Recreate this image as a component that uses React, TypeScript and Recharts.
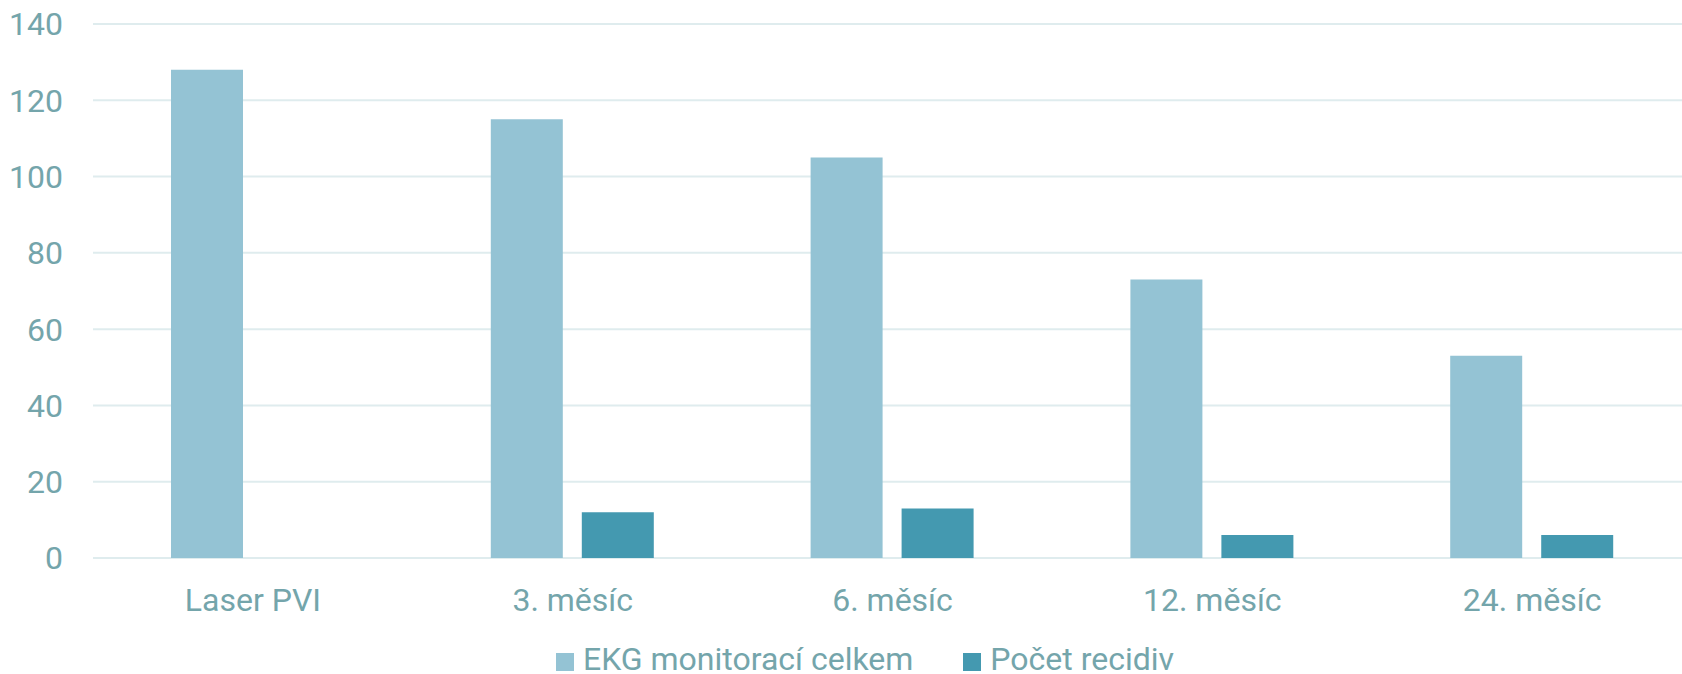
import React from 'react'
import { BarChart, Bar, XAxis, YAxis, CartesianGrid, Legend } from 'recharts'

const categories = ['Laser PVI', '3. měsíc', '6. měsíc', '12. měsíc', '24. měsíc']
const ekgTotal = [128, 115, 105, 73, 53]
const relapses: (number | null)[] = [null, 12, 13, 6, 6]
const yTicks = [0, 20, 40, 60, 80, 100, 120, 140]

const seriesNames = { ekg: 'EKG monitorací celkem', recidiv: 'Počet recidiv' }

const data = categories.map((name, i) => ({
  name,
  ekg: ekgTotal[i],
  recidiv: relapses[i],
}))

const textColor = '#74a5ab'
const font = 'Roboto, sans-serif'

function LegendContent(props: any) {
  const items = props.payload || []
  return (
    <div style={{ display: 'flex', gap: 50, fontFamily: font, fontSize: 32, lineHeight: '28px', height: 28, color: textColor }}>
      {items.map((p: any) => (
        <div key={p.value} style={{ display: 'flex', alignItems: 'center' }}>
          <span style={{ width: 18, height: 18, background: p.color, marginRight: 9, position: 'relative', top: 3 }} />
          <span>{p.value}</span>
        </div>
      ))}
    </div>
  )
}

export default function App() {
  return (
    <div style={{ position: 'absolute', left: 0, top: 0, width: 1682, height: 674, overflow: 'hidden', background: '#fff' }}>
      <BarChart
        width={1692}
        height={674}
        data={data}
        margin={{ top: 24, right: 0, bottom: 48, left: 0 }}
        barSize={72}
        barGap={19}
      >
        <CartesianGrid vertical={false} stroke="#dfecee" strokeWidth={2} />
        <XAxis
          dataKey="name"
          axisLine={false}
          tickLine={false}
          tickSize={0}
          tickMargin={30}
          height={40}
          tick={{ fill: textColor, fontSize: 32, fontFamily: font }}
        />
        <YAxis
          domain={[0, 140]}
          ticks={yTicks}
          width={93}
          axisLine={false}
          tickLine={false}
          tickSize={0}
          tickMargin={30}
          tick={{ fill: textColor, fontSize: 32, fontFamily: font }}
        />
        <Legend
          content={<LegendContent />}
          wrapperStyle={{ left: 556, top: 645, width: 'auto' }}
        />
        <Bar dataKey="ekg" name={seriesNames.ekg} fill="#94c3d4" isAnimationActive={false} />
        <Bar dataKey="recidiv" name={seriesNames.recidiv} fill="#4499b0" isAnimationActive={false} />
      </BarChart>
    </div>
  )
}
